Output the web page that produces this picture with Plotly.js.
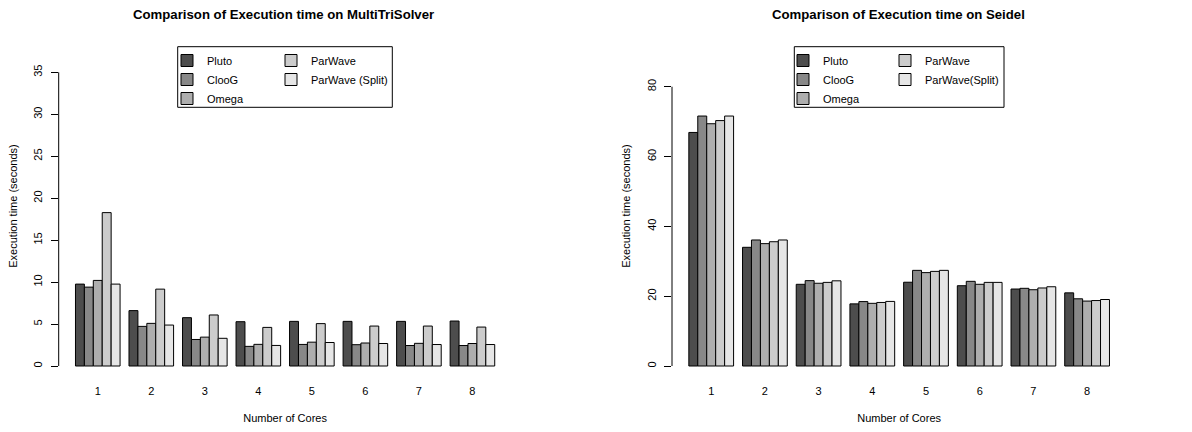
<!DOCTYPE html>
<html>
<head>
<meta charset="utf-8">
<script src="https://cdn.plot.ly/plotly-3.0.1.min.js"></script>
<style>html,body{margin:0;padding:0;background:#fff;}#chart{width:1192px;height:432px;}</style>
</head>
<body>
<div id="chart"></div>
<script>
// ---- data ----
var cores = ['1', '2', '3', '4', '5', '6', '7', '8'];

var seriesNamesMTS = ['Pluto', 'ClooG', 'Omega', 'ParWave', 'ParWave (Split)'];
var seriesNamesSeidel = ['Pluto', 'ClooG', 'Omega', 'ParWave', 'ParWave(Split)'];

var plutoMTS   = [9.76, 6.60, 5.76, 5.28, 5.32, 5.32, 5.32, 5.36];
var cloogMTS   = [9.40, 4.72, 3.16, 2.34, 2.57, 2.54, 2.44, 2.44];
var omegaMTS   = [10.20, 5.08, 3.44, 2.58, 2.84, 2.74, 2.70, 2.68];
var parwaveMTS = [18.28, 9.16, 6.08, 4.60, 5.05, 4.76, 4.76, 4.64];
var splitMTS   = [9.76, 4.88, 3.30, 2.45, 2.80, 2.68, 2.56, 2.56];

var plutoSeidel   = [66.9, 34.0, 23.4, 17.8, 24.0, 23.0, 22.05, 20.95];
var cloogSeidel   = [71.6, 36.1, 24.45, 18.45, 27.4, 24.25, 22.25, 19.25];
var omegaSeidel   = [69.4, 35.05, 23.7, 17.95, 26.75, 23.4, 21.85, 18.6];
var parwaveSeidel = [70.3, 35.6, 23.95, 18.2, 27.1, 23.95, 22.35, 18.75];
var splitSeidel   = [71.6, 36.1, 24.4, 18.5, 27.4, 23.95, 22.7, 19.05];

var ticksMTS = [0, 5, 10, 15, 20, 25, 30, 35];
var ticksSeidel = [0, 20, 40, 60, 80];

// ---- style ----
var fills = ['#4D4D4D', '#888888', '#AEAEAE', '#CCCCCC', '#E6E6E6'];
var FONT = 'Liberation Sans, Arial, Helvetica, sans-serif';
var W = 1192, H = 432;
function xp(px) { return px / W; }
function yp(px) { return 1 - px / H; }

var mtsSeries = [plutoMTS, cloogMTS, omegaMTS, parwaveMTS, splitMTS];
var seidelSeries = [plutoSeidel, cloogSeidel, omegaSeidel, parwaveSeidel, splitSeidel];

var traces = [];
mtsSeries.forEach(function (vals, i) {
  traces.push({
    type: 'bar', x: cores, y: vals, name: seriesNamesMTS[i],
    xaxis: 'x', yaxis: 'y',
    legend: i < 3 ? 'legend' : 'legend2',
    marker: { color: fills[i], line: { color: '#000', width: 1 } },
    hoverinfo: 'x+y+name'
  });
});
seidelSeries.forEach(function (vals, i) {
  traces.push({
    type: 'bar', x: cores, y: vals, name: seriesNamesSeidel[i],
    xaxis: 'x2', yaxis: 'y2',
    legend: i < 3 ? 'legend3' : 'legend4',
    marker: { color: fills[i], line: { color: '#000', width: 1 } },
    hoverinfo: 'x+y+name'
  });
});

var yDomain = [yp(377), yp(35)];

function xAxis(domain, anchor) {
  return {
    domain: domain, anchor: anchor, type: 'category',
    range: [-0.73, 7.73], showline: false, zeroline: false, showgrid: false,
    ticks: '', ticklabelstandoff: 6,
    tickfont: { family: FONT, size: 11, color: '#000' },
    title: { text: 'Number of Cores', font: { family: FONT, size: 11, color: '#000' }, standoff: 18 },
    fixedrange: true
  };
}
function yAxis(range, tickvals, anchor) {
  return {
    domain: yDomain, anchor: anchor, range: range,
    tickmode: 'array', tickvals: tickvals,
    showline: false, zeroline: false, showgrid: false,
    ticks: 'outside', ticklen: 7, tickwidth: 1, tickcolor: '#000',
    tickangle: -90, ticklabelstandoff: 4,
    tickfont: { family: FONT, size: 11, color: '#000' },
    title: { text: 'Execution time (seconds)', font: { family: FONT, size: 11, color: '#000' }, standoff: 12 },
    fixedrange: true
  };
}

function legendAt(pxX, pxY) {
  return {
    x: xp(pxX), y: yp(pxY), xanchor: 'left', yanchor: 'top',
    orientation: 'v', bgcolor: 'rgba(0,0,0,0)', borderwidth: 0,
    font: { family: FONT, size: 11, color: '#000' },
    traceorder: 'normal'
  };
}

var layout = {
  width: W, height: H,
  margin: { l: 0, r: 0, t: 0, b: 0 },
  paper_bgcolor: '#fff', plot_bgcolor: 'rgba(0,0,0,0)',
  font: { family: FONT, size: 11, color: '#000' },
  barmode: 'group', bargap: 1 / 6, bargroupgap: 0,
  showlegend: true,
  xaxis: xAxis([xp(58.7), xp(511.5)], 'y'),
  yaxis: yAxis([-1.311, 39.447], ticksMTS, 'x'),
  xaxis2: xAxis([xp(672), xp(1126.3)], 'y2'),
  yaxis2: yAxis([-3.151, 94.815], ticksSeidel, 'x2'),
  legend: legendAt(167, 46),
  legend2: legendAt(271, 46),
  legend3: legendAt(783, 46),
  legend4: legendAt(885, 46),
  annotations: [
    { text: '<b>Comparison of Execution time on MultiTriSolver</b>', xref: 'paper', yref: 'paper',
      x: xp(283), y: yp(15), xanchor: 'center', yanchor: 'middle', showarrow: false,
      font: { family: FONT, size: 13.2, color: '#000' } },
    { text: '<b>Comparison of Execution time on Seidel</b>', xref: 'paper', yref: 'paper',
      x: xp(898), y: yp(15), xanchor: 'center', yanchor: 'middle', showarrow: false,
      font: { family: FONT, size: 13.2, color: '#000' } }
  ],
  shapes: [
    // y axis lines spanning only the tick range (R style)
    { type: 'line', xref: 'x domain', yref: 'y', x0: 0, x1: 0, y0: ticksMTS[0], y1: ticksMTS[ticksMTS.length - 1],
      line: { color: '#000', width: 1 } },
    { type: 'line', xref: 'x2 domain', yref: 'y2', x0: 0, x1: 0, y0: ticksSeidel[0], y1: ticksSeidel[ticksSeidel.length - 1],
      line: { color: '#000', width: 1 } },
    // legend boxes
    { type: 'rect', xref: 'paper', yref: 'paper', x0: xp(177.7), x1: xp(392.3), y0: yp(107.3), y1: yp(46.7),
      line: { color: '#000', width: 1 }, fillcolor: 'rgba(0,0,0,0)' },
    { type: 'rect', xref: 'paper', yref: 'paper', x0: xp(794.3), x1: xp(1004), y0: yp(107.3), y1: yp(46.7),
      line: { color: '#000', width: 1 }, fillcolor: 'rgba(0,0,0,0)' }
  ]
};

Plotly.newPlot('chart', traces, layout, { displayModeBar: false, staticPlot: true });
</script>
</body>
</html>
